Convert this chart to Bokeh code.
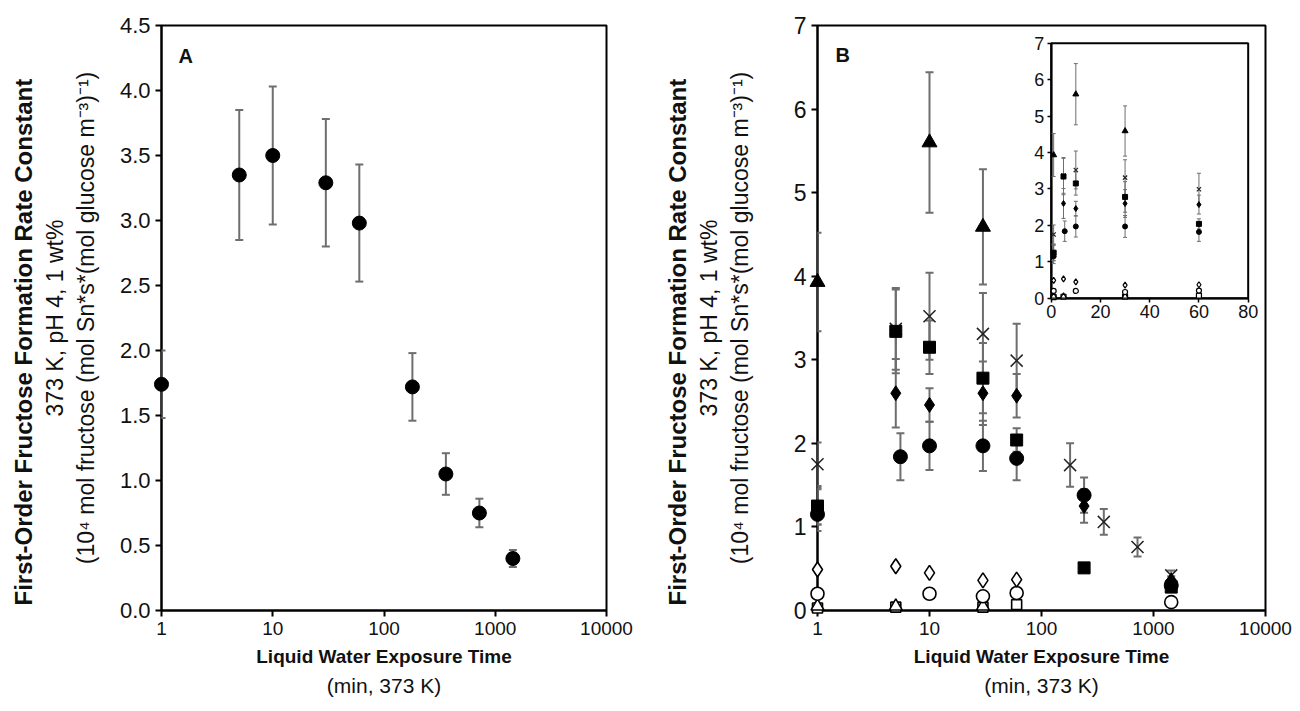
from bokeh.plotting import figure
from bokeh.layouts import row
from bokeh.models import (Range1d, FixedTicker, NumeralTickFormatter, BasicTickFormatter,
                          Whisker, TeeHead, ColumnDataSource, Title, Label, LinearAxis,
                          LinearScale, BoxAnnotation)
from bokeh.embed import file_html
from bokeh.resources import INLINE

# ---------------- data ----------------
x_ticks = [1, 10, 100, 1000, 10000]

# Panel A
a_time = [1, 5, 10, 30, 60, 180, 360, 720, 1440]
a_rate = [1.74, 3.35, 3.50, 3.29, 2.98, 1.72, 1.05, 0.75, 0.40]
a_err = [0.26, 0.50, 0.53, 0.49, 0.45, 0.26, 0.16, 0.11, 0.065]
a_yticks = [0, 0.5, 1.0, 1.5, 2.0, 2.5, 3.0, 3.5, 4.0, 4.5]

# Panel B
b_yticks = [0, 1, 2, 3, 4, 5, 6, 7]
inset_xticks = [0, 20, 40, 60, 80]

tri_t = [1, 10, 30]
tri_y = [3.93, 5.60, 4.59]
tri_e = [0.59, 0.84, 0.69]

x_t = [1, 5, 10, 30, 60, 180, 360, 720, 1440]
x_y = [1.75, 3.37, 3.52, 3.31, 2.99, 1.74, 1.06, 0.76, 0.42]
x_e = [0.26, 0.49, 0.52, 0.49, 0.44, 0.26, 0.155, 0.115, 0.06]

sq_t = [1, 5, 10, 30, 60, 240, 1440]
sq_y = [1.25, 3.34, 3.15, 2.78, 2.04, 0.51, 0.28]
sq_e = [0.22, 0.50, 0.32, 0.42, 0.14, 0.03, 0.04]

dia_t = [1, 5, 10, 30, 60, 240, 1440]
dia_y = [1.20, 2.60, 2.46, 2.60, 2.57, 1.25, 0.36]
dia_e = [0.25, 0.41, 0.20, 0.38, 0.26, 0.20, 0.05]

cir_t = [1, 5.5, 10, 30, 60, 240, 1440]
cir_y = [1.15, 1.84, 1.97, 1.97, 1.82, 1.38, 0.30]
cir_e = [0.12, 0.28, 0.29, 0.30, 0.26, 0.21, 0.04]

odia_t = [1, 5, 10, 30, 60]
odia_y = [0.49, 0.53, 0.45, 0.36, 0.37]

ocir_t = [1, 10, 30, 60, 1440]
ocir_y = [0.20, 0.20, 0.17, 0.21, 0.10]

otri_t = [1, 5, 30]
otri_y = [0.05, 0.05, 0.05]

osq_t = [1, 5, 30, 60]
osq_y = [0.03, 0.04, 0.04, 0.07]

# ---------------- style ----------------
FONT = "Liberation Sans"
GRAY = "#6e6e6e"
TXT = "#111111"
Y_LINE3 = "(10\u2074 mol fructose (mol Sn*s*(mol glucose m\u207b\u00b3)\u207b\u00b9)"
Y_LINE2 = "373 K, pH 4, 1 wt%"
Y_LINE1 = "First-Order Fructose Formation Rate Constant"


def make_panel(ymax, yticks, yfmt, width, bl, br, label_standoff, ytick_size):
    p = figure(width=width, height=711, x_axis_type="log",
               x_range=Range1d(1, 10000), y_range=Range1d(0, ymax),
               output_backend="svg", toolbar_location=None,
               min_border_left=bl, min_border_right=br,
               min_border_top=25, min_border_bottom=101)
    p.background_fill_color = "white"
    p.border_fill_color = "white"
    p.outline_line_color = "black"
    p.outline_line_width = 2
    p.xgrid.visible = False
    p.ygrid.visible = False
    xa = p.below[0]
    ya = p.left[0]
    xa.ticker = FixedTicker(ticks=x_ticks)
    xa.formatter = BasicTickFormatter(use_scientific=False)
    ya.ticker = FixedTicker(ticks=yticks)
    ya.formatter = yfmt
    for ax in (xa, ya):
        ax.axis_line_width = 2
        ax.axis_line_color = "black"
        ax.major_tick_line_width = 2
        ax.major_tick_line_color = "black"
        ax.major_tick_out = 6
        ax.major_tick_in = 0
        ax.minor_tick_line_color = None
        ax.major_label_text_font = FONT
        ax.major_label_text_color = TXT
        ax.major_label_standoff = 5
        ax.axis_label_text_font = FONT
        ax.axis_label_text_color = TXT
    xa.major_label_text_font_size = "19px"
    ya.major_label_text_font_size = ytick_size
    xa.axis_label = "Liquid Water Exposure Time"
    xa.axis_label_text_font_style = "bold"
    xa.axis_label_text_font_size = "19px"
    xa.axis_label_standoff = 8
    ya.axis_label = Y_LINE3
    ya.axis_label_text_font_style = "normal"
    ya.axis_label_text_font_size = "23px"
    ya.axis_label_standoff = label_standoff
    p.add_layout(Title(text="(min, 373 K)", align="center", text_font=FONT,
                       text_font_size="21px", text_font_style="normal",
                       text_color=TXT, standoff=4), "below")
    p.add_layout(Title(text=Y_LINE2, align="center", text_font=FONT,
                       text_font_size="23px", text_font_style="normal",
                       text_color=TXT, standoff=3), "left")
    p.add_layout(Title(text=Y_LINE1, align="left", text_font=FONT,
                       text_font_size="24px", text_font_style="bold",
                       text_color=TXT, standoff=3, offset=5), "left")
    return p


def whisk(p, t, y, e, lw=2, cap=8, xr="default", yr="default"):
    src = ColumnDataSource(dict(x=t, upper=[a + b for a, b in zip(y, e)],
                                lower=[a - b for a, b in zip(y, e)]))
    w = Whisker(base="x", upper="upper", lower="lower", source=src,
                line_color=GRAY, line_width=lw,
                upper_head=TeeHead(size=cap, line_color=GRAY, line_width=lw),
                lower_head=TeeHead(size=cap, line_color=GRAY, line_width=lw),
                level="annotation", x_range_name=xr, y_range_name=yr)
    p.add_layout(w)


# ---------------- Panel A ----------------
pa = make_panel(4.5, a_yticks, NumeralTickFormatter(format="0.0"), 650, 161, 44, 18, "22px")
whisk(pa, a_time, a_rate, a_err)
pa.scatter(a_time, a_rate, marker="circle", size=14, fill_color="black",
           line_color="black", level="overlay")
pa.add_layout(Label(x=1.42, y=4.35, text="A", text_font=FONT, text_font_size="20px",
                    text_font_style="bold", text_baseline="top", text_color=TXT))

# ---------------- Panel B ----------------
pb = make_panel(7, b_yticks, BasicTickFormatter(), 650, 167, 35, 38, "23px")
pb.add_layout(Label(x=1.45, y=6.78, text="B", text_font=FONT, text_font_size="20px",
                    text_font_style="bold", text_baseline="top", text_color=TXT))

# series definitions: (t, y, err, marker, size, filled, inset_size)
series = [
    (osq_t, osq_y, None, "square", 10, False, 5),
    (otri_t, otri_y, None, "triangle", 13, False, 6),
    (ocir_t, ocir_y, None, "circle", 13, False, 5),
    (odia_t, odia_y, None, "diamond", 15, False, 6),
    (x_t, x_y, x_e, "x", 17, None, 6),
    (tri_t, tri_y, tri_e, "triangle", 15, True, 6),
    (dia_t, dia_y, dia_e, "diamond", 15, True, 6),
    (sq_t, sq_y, sq_e, "square", 12, True, 5),
    (cir_t, cir_y, cir_e, "circle", 14, True, 5),
]

# inset coordinate system (linear) living inside panel B's frame
pb.extra_x_ranges = {"ix": Range1d(-94.90, 87.03)}
pb.extra_x_scales = {"ix": LinearScale()}
pb.extra_y_ranges = {"iy": Range1d(-8.573, 7.486)}
pb.extra_y_scales = {"iy": LinearScale()}

for t, y, e, mk, sz, filled, isz in series:
    if e is not None:
        whisk(pb, t, y, e)
for t, y, e, mk, sz, filled, isz in series:
    if filled is None:
        pb.scatter(t, y, marker=mk, size=sz, line_color="#222222", line_width=1.5,
                   level="overlay")
    elif filled:
        pb.scatter(t, y, marker=mk, size=sz, fill_color="black", line_color="black",
                   level="overlay")
    else:
        pb.scatter(t, y, marker=mk, size=sz, fill_color="white", line_color="black",
                   line_width=1.6, level="overlay")

# inset frame and axes
pb.add_layout(BoxAnnotation(left=0, right=80, bottom=0, top=7, x_range_name="ix",
                            y_range_name="iy", fill_alpha=0, line_color="black",
                            line_alpha=1, line_width=2))
ixa = LinearAxis(x_range_name="ix", y_range_name="iy", fixed_location=0, bounds=(0, 80),
                 ticker=FixedTicker(ticks=inset_xticks))
iya = LinearAxis(x_range_name="ix", y_range_name="iy", fixed_location=0, bounds=(0, 7),
                 ticker=FixedTicker(ticks=b_yticks))
for ax in (ixa, iya):
    ax.axis_line_width = 2
    ax.major_tick_line_width = 1.5
    ax.major_tick_out = 4
    ax.major_tick_in = 0
    ax.minor_tick_line_color = None
    ax.major_label_text_font = FONT
    ax.major_label_text_font_size = "18px"
    ax.major_label_text_color = TXT
    ax.major_label_standoff = 3
pb.add_layout(ixa, "below")
pb.add_layout(iya, "left")

for t, y, e, mk, sz, filled, isz in series:
    keep = [i for i, tv in enumerate(t) if tv <= 80]
    ti = [t[i] for i in keep]
    yi = [y[i] for i in keep]
    if e is not None:
        ei = [e[i] for i in keep]
        whisk(pb, ti, yi, ei, lw=1, cap=4, xr="ix", yr="iy")
for t, y, e, mk, sz, filled, isz in series:
    keep = [i for i, tv in enumerate(t) if tv <= 80]
    ti = [t[i] for i in keep]
    yi = [y[i] for i in keep]
    if filled is None:
        pb.scatter(ti, yi, marker=mk, size=isz, line_color="#222222", line_width=1.2,
                   x_range_name="ix", y_range_name="iy", level="overlay")
    elif filled:
        pb.scatter(ti, yi, marker=mk, size=isz, fill_color="black", line_color="black",
                   x_range_name="ix", y_range_name="iy", level="overlay")
    else:
        pb.scatter(ti, yi, marker=mk, size=isz, fill_color="white", line_color="black",
                   line_width=1.2, x_range_name="ix", y_range_name="iy", level="overlay")

layout = row(pa, pb, spacing=0)
open("out.html", "w").write(file_html(layout, INLINE))
